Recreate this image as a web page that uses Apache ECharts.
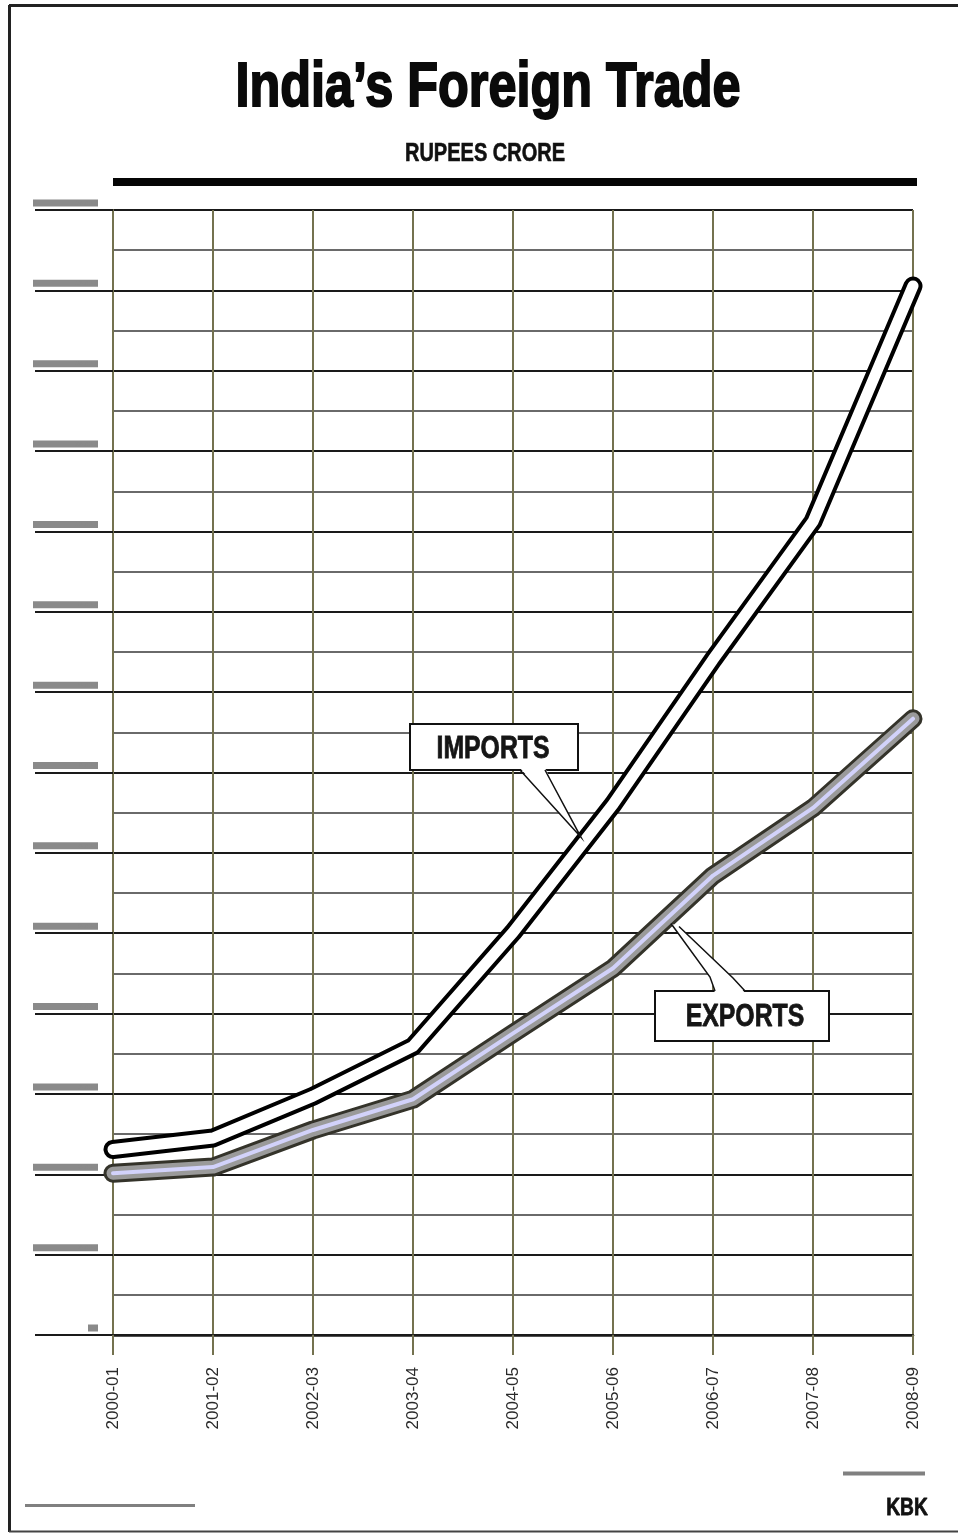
<!DOCTYPE html>
<html>
<head>
<meta charset="utf-8">
<script src="https://cdn.jsdelivr.net/npm/echarts@6/dist/echarts.min.js"></script>
<style>
html,body{margin:0;padding:0;background:#fff;}
#main{width:958px;height:1534px;}
</style>
</head>
<body>
<div id="main"></div>
<script>
// ---- data (Rs crore) ----
var categories = ['2000-01','2001-02','2002-03','2003-04','2004-05','2005-06','2006-07','2007-08','2008-09'];
var imports = [230873, 245200, 297206, 359108, 501065, 660409, 840506, 1012312, 1305503];
var exports = [201356, 209018, 255137, 293367, 375340, 456418, 571779, 655864, 766935];
var yMin = 0, yMax = 1400000, yStep = 100000;

var chart = echarts.init(document.getElementById('main'), null, {renderer: 'canvas'});
var OLIVE = '#74724f';
var FONT = '"Liberation Sans", Arial, sans-serif';
var NARROW = 0.8;

function lineSeries(name, data, color, width, z) {
  return {
    name: name, type: 'line', data: data, symbol: 'none', silent: true, z: z,
    lineStyle: {color: color, width: width, cap: 'round', join: 'round'},
    animation: false
  };
}

var option = {
  animation: false,
  backgroundColor: '#fff',
  grid: {left: 113, right: 45, top: 210, bottom: 199, containLabel: false},
  xAxis: {
    type: 'category', data: categories, boundaryGap: false,
    axisLine: {show: true, lineStyle: {color: '#1a1a1a', width: 2.5}},
    axisTick: {show: true, length: 20, alignWithLabel: true, lineStyle: {color: OLIVE, width: 2}},
    splitLine: {show: true, lineStyle: {color: OLIVE, width: 2}},
    axisLabel: {rotate: 90, margin: 32, fontFamily: FONT, fontSize: 17, color: '#2a2a2a'}
  },
  yAxis: {
    type: 'value', min: yMin, max: yMax, interval: yStep,
    axisLine: {show: true, lineStyle: {color: OLIVE, width: 2}},
    axisTick: {show: true, length: 78, lineStyle: {color: '#1a1a1a', width: 2}},
    minorTick: {show: false, splitNumber: 2},
    splitLine: {show: true, lineStyle: {color: '#1a1a1a', width: 2}},
    minorSplitLine: {show: true, lineStyle: {color: '#3a3a3a', width: 1.5}},
    axisLabel: {
      margin: 15, padding: [0, 0, 14, 0],
      formatter: function (v) { return v === 0 ? '{sq|' + v + '}' : '{bar|' + v + '}'; },
      rich: {
        bar: {width: 65, height: 7, lineHeight: 7, fontSize: 6, color: '#8a8a8a', backgroundColor: '#8a8a8a'},
        sq: {width: 10, height: 7, lineHeight: 7, fontSize: 6, color: '#8a8a8a', backgroundColor: '#8a8a8a'}
      }
    }
  },
  series: [
    lineSeries('IMPORTS', imports, '#000', 19, 3),
    lineSeries('IMPORTS', imports, '#fff', 11, 4),
    lineSeries('EXPORTS', exports, '#34332a', 19, 5),
    lineSeries('EXPORTS', exports, '#9a9a9a', 13, 6),
    lineSeries('EXPORTS', exports, '#d2d2fa', 4, 7)
  ]
};
chart.setOption(option);

function lerpPt(seriesData, i, t) {
  var a = chart.convertToPixel({xAxisIndex: 0, yAxisIndex: 0}, [i, seriesData[i]]);
  var b = chart.convertToPixel({xAxisIndex: 0, yAxisIndex: 0}, [i + 1, seriesData[i + 1]]);
  return [a[0] + (b[0] - a[0]) * t, a[1] + (b[1] - a[1]) * t];
}
var tipI = lerpPt(imports, 4, 0.68); tipI = [tipI[0], tipI[1] - 8];
var tipE = lerpPt(exports, 5, 0.58); tipE = [tipE[0], tipE[1] + 9];

function narrowText(txt, x, y, size, fill, strokeW, extra) {
  var st = {text: txt, font: 'bold ' + size + 'px ' + FONT, fill: fill, align: 'center', verticalAlign: 'middle'};
  if (strokeW) { st.stroke = fill; st.lineWidth = strokeW; }
  if (extra) { for (var k in extra) st[k] = extra[k]; }
  return {type: 'text', x: x, y: y, scaleX: NARROW, scaleY: 1, style: st};
}

var graphics = [
  // frame
  {type: 'line', shape: {x1: 9.5, y1: 5, x2: 9.5, y2: 1532}, style: {stroke: '#222', lineWidth: 3}},
  {type: 'line', shape: {x1: 9, y1: 5.5, x2: 958, y2: 5.5}, style: {stroke: '#222', lineWidth: 3}},
  {type: 'line', shape: {x1: 9, y1: 1531.5, x2: 958, y2: 1531.5}, style: {stroke: '#444', lineWidth: 2}},
  // title
  narrowText('India\u2019s Foreign Trade', 488, 89, 63, '#0a0a0a', 2, {shadowColor: 'rgba(100,100,200,0.6)', shadowBlur: 3, shadowOffsetX: 2, shadowOffsetY: 3}),
  narrowText('RUPEES CRORE', 485, 154, 25, '#111', 0.6),
  {type: 'rect', shape: {x: 113, y: 178, width: 804, height: 8}, style: {fill: '#050505'}},
  // footer
  {type: 'line', shape: {x1: 843, y1: 1473.5, x2: 925, y2: 1473.5}, style: {stroke: '#808080', lineWidth: 4}},
  {type: 'line', shape: {x1: 25, y1: 1505.5, x2: 195, y2: 1505.5}, style: {stroke: '#808080', lineWidth: 3}},
  narrowText('KBK', 907, 1508, 24, '#111', 0.8),
  // IMPORTS callout
  {type: 'rect', shape: {x: 410, y: 724, width: 168, height: 46}, style: {fill: '#fff', stroke: '#111', lineWidth: 2}},
  {type: 'polygon', shape: {points: [[520, 768], [tipI[0], tipI[1]], [545, 768]]}, style: {fill: '#fff'}},
  {type: 'polyline', shape: {points: [[520, 770], [tipI[0], tipI[1]], [545, 770]]}, style: {stroke: '#111', lineWidth: 1.5, fill: null}},
  narrowText('IMPORTS', 493, 749, 31, '#151515', 0.8),
  // EXPORTS callout
  {type: 'rect', shape: {x: 655, y: 991, width: 174, height: 50}, style: {fill: '#fff', stroke: '#111', lineWidth: 2}},
  {type: 'polygon', shape: {points: [[tipE[0], tipE[1]], [710, 977], [715, 993], [745, 993], [733, 978], [tipE[0] + 8, tipE[1] + 3]]}, style: {fill: '#fff'}},
  {type: 'polyline', shape: {points: [[tipE[0], tipE[1]], [710, 977], [715, 991]]}, style: {stroke: '#111', lineWidth: 1.5, fill: null}},
  {type: 'polyline', shape: {points: [[tipE[0] + 8, tipE[1] + 3], [733, 978], [745, 991]]}, style: {stroke: '#111', lineWidth: 1.5, fill: null}},
  narrowText('EXPORTS', 745, 1017, 31, '#151515', 0.8)
];
graphics.forEach(function (g) { g.z = 100; g.silent = true; });
chart.setOption({graphic: graphics});
</script>
</body>
</html>
